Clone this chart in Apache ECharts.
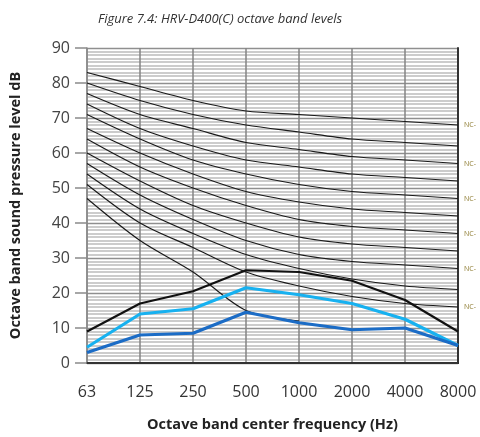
<!DOCTYPE html>
<html>
<head>
<meta charset="utf-8">
<script src="https://cdn.jsdelivr.net/npm/echarts@6/dist/echarts.min.js"></script>
<style>
  html, body { margin: 0; padding: 0; background: #fff; }
  #chart { width: 480px; height: 437px; }
</style>
</head>
<body>
<div id="chart"></div>
<script>
// octave band centres
var freqs = ['63', '125', '250', '500', '1000', '2000', '4000', '8000'];

// NC reference curves, top to bottom
var ncNames = ['NC-70', 'NC-65', 'NC-60', 'NC-55', 'NC-50', 'NC-45', 'NC-40', 'NC-35', 'NC-30', 'NC-25', 'NC-20', 'NC-15'];
var ncLevels = [
    [83, 79, 75, 72, 71, 70, 69, 68],
    [80, 75, 71, 68, 66, 64, 63, 62],
    [77, 71, 67, 63, 61, 59, 58, 57],
    [74, 67, 62, 58, 56, 54, 53, 52],
    [71, 64, 58, 54, 51, 49, 48, 47],
    [67, 60, 54, 49, 46, 44, 43, 42],
    [64, 56, 50, 45, 41, 39, 38, 37],
    [60, 52, 45, 40, 36, 34, 33, 32],
    [57, 48, 41, 35, 31, 29, 28, 27],
    [54, 44, 37, 31, 27, 24, 22, 21],
    [51, 40, 33, 26, 22, 19, 17, 16],
    [47, 35, 26, 15, 12, null, null, null]
];
// curves that get a label at the right edge
var ncLabelled = ['NC-70', 'NC-60', 'NC-50', 'NC-40', 'NC-30', 'NC-20'];

// measured levels
var levelBlack = [9, 17, 20.5, 26.5, 26, 23.5, 18, 9];
var levelLight = [4.5, 14, 15.5, 21.5, 19.5, 17, 12.5, 5];
var levelDark = [3, 8, 8.5, 14.5, 11.5, 9.5, 10, 5];

var yTicks = [0, 10, 20, 30, 40, 50, 60, 70, 80, 90];

var dom = document.getElementById('chart');
var myChart = echarts.init(dom);

var series = [];
ncNames.forEach(function (name, i) {
    series.push({
        name: name,
        type: 'line',
        data: ncLevels[i],
        smooth: 0.3,
        symbol: 'none',
        silent: true,
        z: 2,
        lineStyle: { color: '#1a1a1a', width: 1.2 },
        endLabel: {
            show: ncLabelled.indexOf(name) >= 0,
            formatter: 'NC-',
            color: '#8c7a2e',
            fontSize: 7,
            fontFamily: 'Open Sans',
            distance: 6
        }
    });
});
series.push({
    name: 'Black',
    type: 'line',
    data: levelBlack,
    symbol: 'none',
    z: 5,
    lineStyle: { color: '#111', width: 2.2 }
});
series.push({
    name: 'Light',
    type: 'line',
    data: levelLight,
    symbol: 'none',
    z: 5,
    lineStyle: { color: '#17b1f0', width: 3.2 }
});
series.push({
    name: 'Dark',
    type: 'line',
    data: levelDark,
    symbol: 'none',
    z: 5,
    lineStyle: { color: '#1b6cc6', width: 3.2 }
});

option = {
    backgroundColor: '#fff',
    animation: false,
    title: {
        text: 'Figure 7.4: HRV-D400(C) octave band levels',
        left: 215,
        top: 8,
        textAlign: 'center',
        textStyle: {
            fontFamily: 'Open Sans',
            fontStyle: 'italic',
            fontWeight: 'normal',
            fontSize: 13,
            color: '#333'
        }
    },
    grid: { left: 84, right: 22, top: 48, bottom: 73 },
    xAxis: [{
        type: 'category',
        data: freqs,
        boundaryGap: false,
        name: 'Octave band center frequency (Hz)',
        nameLocation: 'middle',
        nameGap: 54,
        nameTextStyle: { fontFamily: 'Open Sans', fontWeight: 'bold', fontSize: 14.5, color: '#222' },
        axisLine: { lineStyle: { color: '#000', width: 2 } },
        axisTick: { show: false },
        axisLabel: { fontFamily: 'Open Sans', fontSize: 16, color: '#333', margin: 21 },
        splitLine: { show: true, lineStyle: { color: '#858585', width: 1.5 } }
    }, {
        type: 'category',
        data: freqs,
        boundaryGap: false,
        position: 'top',
        axisLine: { lineStyle: { color: '#333', width: 2 } },
        axisTick: { show: false },
        axisLabel: { show: false }
    }],
    yAxis: [{
        type: 'value',
        min: 0,
        max: 90,
        interval: 10,
        name: 'Octave band sound pressure level dB',
        nameLocation: 'middle',
        nameGap: 64,
        nameTextStyle: { fontFamily: 'Open Sans', fontWeight: 'bold', fontSize: 14.5, color: '#222' },
        axisLine: { show: true, lineStyle: { color: '#8a8a8a', width: 1.5 } },
        axisTick: { show: true, inside: false, length: 12, lineStyle: { color: '#8a8a8a', width: 1.5 } },
        axisLabel: {
            fontFamily: 'Open Sans', fontSize: 16, color: '#444', margin: 17,
            formatter: function (v) { return yTicks.indexOf(v) >= 0 ? String(v) : ''; }
        },
        splitLine: { show: true, lineStyle: { color: '#8f8f8f', width: 1.3 } },
        minorTick: { show: false, splitNumber: 10 },
        minorSplitLine: { show: true, lineStyle: { color: '#bcbcbc', width: 1.5 } }
    }, {
        type: 'value',
        min: 0,
        max: 90,
        interval: 10,
        position: 'right',
        axisLine: { show: true, lineStyle: { color: '#333', width: 2 } },
        axisTick: { show: false },
        axisLabel: { show: false },
        splitLine: { show: false }
    }],
    series: series
};

if (option && typeof option === 'object') {
    myChart.setOption(option, true);
}
</script>
</body>
</html>
